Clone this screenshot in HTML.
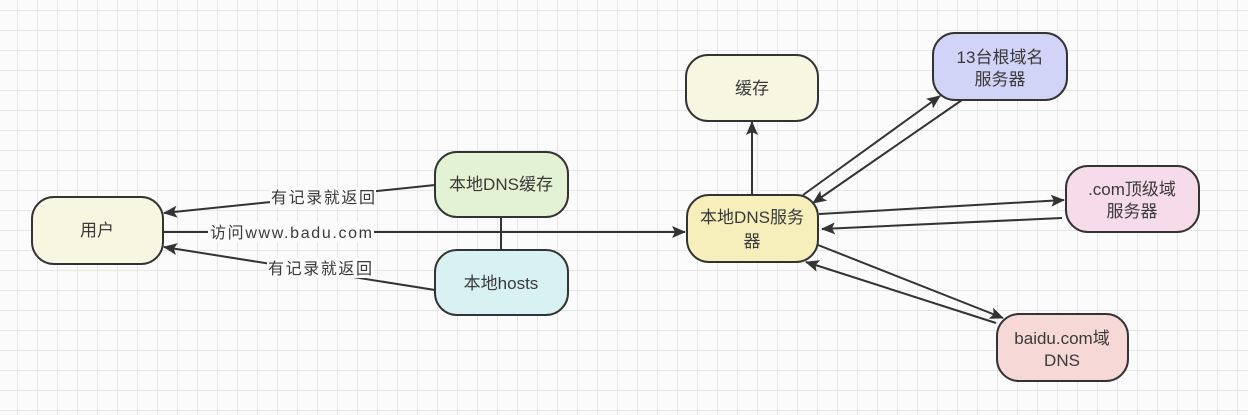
<!DOCTYPE html>
<html><head><meta charset="utf-8"><style>
html,body{margin:0;padding:0;width:1248px;height:415px;overflow:hidden;background:#fbfbfb}
svg{display:block}
text{font-family:"Liberation Sans","Noto Sans CJK SC",sans-serif;fill:#3a3a3a}
</style></head><body>
<svg width="1248" height="415" viewBox="0 0 1248 415" xmlns="http://www.w3.org/2000/svg">
<defs>
<pattern id="g" x="17" y="10" width="20" height="20" patternUnits="userSpaceOnUse">
<path d="M0 0H20M0 0V20" stroke="#e6e6e6" stroke-width="2" fill="none"/>
</pattern>
<marker id="a" markerWidth="14" markerHeight="12" refX="13" refY="6" orient="auto" markerUnits="userSpaceOnUse">
<path d="M0,0 L14,6 L0,12 L3,6 Z" fill="#333"/>
</marker>
</defs>
<rect width="1248" height="415" fill="url(#g)"/>
<g stroke="#333" stroke-width="2" fill="none">
<line x1="435" y1="185" x2="164" y2="213" marker-end="url(#a)"/>
<line x1="435" y1="290" x2="164" y2="247" marker-end="url(#a)"/>
<line x1="164" y1="232" x2="685" y2="232" marker-end="url(#a)"/>
<line x1="501" y1="217" x2="501" y2="250"/>
<line x1="752" y1="195" x2="752" y2="122" marker-end="url(#a)"/>
<line x1="803" y1="195" x2="940" y2="96" marker-end="url(#a)"/>
<line x1="962" y1="100" x2="813" y2="203" marker-end="url(#a)"/>
<line x1="819" y1="214" x2="1064" y2="200" marker-end="url(#a)"/>
<line x1="1062" y1="218" x2="822" y2="229" marker-end="url(#a)"/>
<line x1="818" y1="245" x2="1003" y2="318" marker-end="url(#a)"/>
<line x1="996" y1="323" x2="806" y2="262" marker-end="url(#a)"/>
</g>
<g font-size="16" text-anchor="middle">
<rect x="270" y="187" width="106" height="20" fill="#fbfbfb"/>
<text x="323" y="203" textLength="104">有记录就返回</text>
<rect x="267" y="258" width="106" height="20" fill="#fbfbfb"/>
<text x="320" y="274" textLength="104">有记录就返回</text>
<rect x="208" y="222" width="166" height="20" fill="#fbfbfb"/>
<text x="291" y="238" textLength="162">访问www.badu.com</text>
</g>
<g stroke="#333" stroke-width="2">
<rect x="32" y="197" width="131" height="67" rx="22" fill="#f7f6e1"/>
<rect x="435" y="152" width="133" height="65" rx="22" fill="#e2f2d2"/>
<rect x="435" y="250" width="133" height="65" rx="22" fill="#d8f1f2"/>
<rect x="687" y="195" width="131" height="67" rx="22" fill="#f6eebb"/>
<rect x="686" y="55" width="132" height="66" rx="22" fill="#f7f6e1"/>
<rect x="933" y="33" width="134" height="67" rx="22" fill="#d1d4f6"/>
<rect x="1066" y="166" width="133" height="66" rx="22" fill="#f6dbea"/>
<rect x="997" y="314" width="131" height="67" rx="22" fill="#f6d8d6"/>
</g>
<g font-size="17" text-anchor="middle">
<text x="97" y="236">用户</text>
<text x="501" y="190">本地DNS缓存</text>
<text x="501" y="289">本地hosts</text>
<text x="752" y="223">本地DNS服务</text>
<text x="752" y="247">器</text>
<text x="752" y="94">缓存</text>
<text x="1000" y="63">13台根域名</text>
<text x="1000" y="85">服务器</text>
<text x="1132" y="195">.com顶级域</text>
<text x="1132" y="217">服务器</text>
<text x="1062" y="344">baidu.com域</text>
<text x="1062" y="366">DNS</text>
</g>
</svg>
</body></html>
